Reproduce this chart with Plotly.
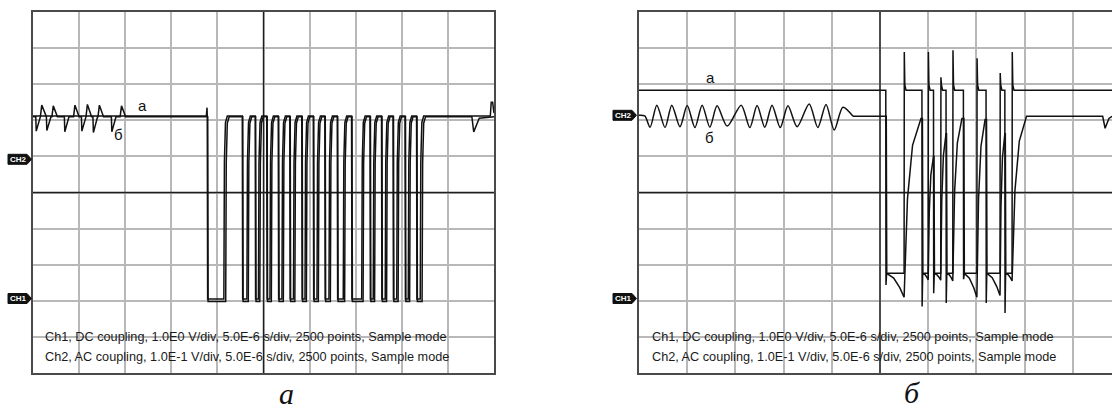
import plotly.graph_objects as go

W, H = 1112, 410

# ---------------- DATA (oscilloscope divisions) ----------------
# Left panel (a): trace "а"
LA_HIGH, LA_LOW = 7.12, 2.05
LA_FALL = [3.78, 4.54, 4.82, 5.07, 5.32, 5.57, 5.83, 6.08, 6.33, 6.60, 6.91, 7.31, 7.56, 7.81, 8.07, 8.32]
LA_RISE = [4.14, 4.64, 4.89, 5.14, 5.40, 5.65, 5.90, 6.16, 6.42, 6.73, 7.13, 7.38, 7.64, 7.89, 8.14, 8.40]
# Left panel (a): trace "б"
LB_HIGH, LB_LOW = 7.10, 1.98
LB_FALL = [3.79, 4.55, 4.83, 5.08, 5.33, 5.58, 5.84, 6.09, 6.34, 6.61, 6.92, 7.32, 7.57, 7.82, 8.08, 8.33]
LB_RISE = [4.18, 4.67, 4.92, 5.17, 5.43, 5.68, 5.93, 6.19, 6.45, 6.76, 7.16, 7.41, 7.67, 7.92, 8.17, 8.44]
LB_PEAK_X = [0.19, 0.44, 0.91, 1.18, 1.44, 1.92]
LB_PEAK_Y = [7.42, 7.40, 7.42, 7.44, 7.42, 7.40]
LB_DIP_X = [0.07, 0.30, 0.69, 1.06, 1.31, 1.71]
LB_DIP_Y = [6.70, 6.72, 6.68, 6.70, 6.66, 6.68]
LB_TAIL_DIP = (9.56, 6.68)
LA_END_STEP = (9.94, 7.50)

# Right panel (б): trace "а"
RA_HIGH, RA_LOW = 7.83, 2.76
RA_FALL = [5.12, 5.87, 6.11, 6.37, 6.73, 7.20, 7.59]
RA_RISE = [5.50, 6.00, 6.26, 6.51, 7.01, 7.49, 7.74]
RA_OVERSHOOT = [8.89, 8.89, 8.19, 8.94, 8.72, 8.31, 8.89]
RA_UNDERSHOOT = [2.44, 1.84, 2.21, 1.94, 2.60, 1.94, 1.66]
# Right panel (б): trace "б"
RB_HIGH, RB_LOW = 7.11, 2.76
RB_TROUGH_X = [0.23, 0.54, 0.85, 1.16, 1.47, 1.83, 2.30, 2.61, 2.93, 3.28, 3.71, 4.05]
RB_TROUGH_Y = [6.81, 6.80, 6.82, 6.80, 6.81, 6.84, 6.80, 6.81, 6.80, 6.82, 6.80, 6.73]
RB_PEAK_X = [0.37, 0.68, 1.00, 1.31, 1.62, 2.12, 2.45, 2.76, 3.09, 3.53, 3.88, 4.23]
RB_PEAK_Y = [7.42, 7.42, 7.41, 7.42, 7.40, 7.42, 7.41, 7.42, 7.40, 7.45, 7.44, 7.36]
RB_FALL = [5.13, 5.88, 6.12, 6.38, 6.74, 7.21, 7.60]
RB_RISE = [5.50, 6.00, 6.26, 6.51, 7.01, 7.49, 7.74]
RB_LOW_END = [2.10, 2.58, 2.57, 2.55, 2.10, 2.15, 2.55]
RB_RISE_END = [5.85, 6.11, 6.37, 6.70, 7.18, 7.59, 8.04]
RB_PEAK = [7.05, 6.00, 6.63, 7.05, 7.02, 6.63, 7.11]
RB_TAIL_DIP = (9.67, 6.78)

CAPTION1 = "Ch1, DC coupling, 1.0E0 V/div, 5.0E-6 s/div, 2500 points, Sample mode"
CAPTION2 = "Ch2, AC coupling, 1.0E-1 V/div, 5.0E-6 s/div, 2500 points, Sample mode"

# ---------------- geometry (pixels) ----------------
TOP, BOT = 12, 373
L_X0, L_X1 = 33, 494
R_X0, R_DIV = 639, 48.2
R_XMAX = (W - R_X0) / R_DIV


def px(x):
    return x / W


def py(y):
    return 1 - y / H


# ---------------- waveform builders ----------------
def square_sharp(falls, rises, high, low, end_x):
    xs, ys = [0], [high]
    for tf, tr in zip(falls, rises):
        xs += [tf, tf + 0.008]
        ys += [high, low]
        xs += [tr, tr + 0.012, tr + 0.035, tr + 0.075]
        ys += [low, low + 0.75 * (high - low), high - 0.18, high]
    xs.append(end_x)
    ys.append(high)
    return xs, ys


def osc_points(peak_x, peak_y, dip_x, dip_y, base):
    pts = []
    for x, y in zip(peak_x, peak_y):
        pts += [(x - 0.03, base), (x, y), (x + 0.09, base)]
    for x, y in zip(dip_x, dip_y):
        pts += [(x - 0.01, base), (x, y), (x + 0.09, base)]
    pts.sort()
    return pts


# Left "а"
la_x, la_y = square_sharp(LA_FALL, LA_RISE, LA_HIGH, LA_LOW, 9.92)
la_x[1:1] = [3.76, 3.775]
la_y[1:1] = [LA_HIGH, 7.35]
la_x += [LA_END_STEP[0], LA_END_STEP[0] + 0.03, 10]
la_y += [LA_END_STEP[1], LA_END_STEP[1], 7.2]

# Left "б"
pre = [(0, LB_HIGH)] + osc_points(LB_PEAK_X, LB_PEAK_Y, LB_DIP_X, LB_DIP_Y, LB_HIGH)
sq_x, sq_y = square_sharp(LB_FALL, LB_RISE, LB_HIGH, LB_LOW, 9.52)
lb_x = [p[0] for p in pre] + sq_x[1:]
lb_y = [p[1] for p in pre] + sq_y[1:]
lb_x += [LB_TAIL_DIP[0], LB_TAIL_DIP[0] + 0.12, 10]
lb_y += [LB_TAIL_DIP[1], LB_HIGH - 0.04, LB_HIGH]

# Right "а"
ra_x, ra_y = [0], [RA_HIGH]
for tf, tr, os_, us in zip(RA_FALL, RA_RISE, RA_OVERSHOOT, RA_UNDERSHOOT):
    ra_x += [tf, tf + 0.004, tf + 0.015, tf + 0.04]
    ra_y += [RA_HIGH, us, RA_LOW - 0.05, RA_LOW]
    ra_x += [tr, tr + 0.004, tr + 0.015, tr + 0.04]
    ra_y += [RA_LOW, os_, RA_HIGH + 0.15, RA_HIGH]
ra_x.append(R_XMAX)
ra_y.append(RA_HIGH)

# Right "б" — oscillating part (smooth) and pulse part
osc = sorted(list(zip(RB_TROUGH_X, RB_TROUGH_Y)) + list(zip(RB_PEAK_X, RB_PEAK_Y)))
rbo_x = [0, 0.12] + [p[0] for p in osc] + [4.44]
rbo_y = [7.14, 7.12] + [p[1] for p in osc] + [RB_HIGH]
rb_x, rb_y = [4.44], [RB_HIGH]
prev = RB_HIGH
for i, (tf, tr) in enumerate(zip(RB_FALL, RB_RISE)):
    lowE, re, pk = RB_LOW_END[i], RB_RISE_END[i], RB_PEAK[i]
    L = tr - tf - 0.01
    rb_x += [tf, tf + 0.01, tf + 0.01 + 0.4 * L, tf + 0.01 + 0.75 * L, tr]
    rb_y += [prev, RB_LOW, RB_LOW - 0.2 * (RB_LOW - lowE), RB_LOW - 0.6 * (RB_LOW - lowE), lowE]
    d = re - tr
    rb_x += [tr + 0.2 * d, tr + 0.5 * d, re]
    rb_y += [lowE + 0.55 * (pk - lowE), lowE + 0.85 * (pk - lowE), pk]
    prev = pk
rb_x += [RB_TAIL_DIP[0] - 0.05, RB_TAIL_DIP[0], RB_TAIL_DIP[0] + 0.08, R_XMAX]
rb_y += [RB_HIGH, RB_TAIL_DIP[1], RB_HIGH - 0.06, RB_HIGH]

# ---------------- figure ----------------
fig = go.Figure()
for xs, ys, xa, ya, shape in [(la_x, la_y, "x", "y", "linear"), (lb_x, lb_y, "x", "y", "linear"),
                              (ra_x, ra_y, "x2", "y2", "linear"), (rbo_x, rbo_y, "x2", "y2", "spline"),
                              (rb_x, rb_y, "x2", "y2", "linear")]:
    fig.add_trace(go.Scatter(x=xs, y=ys, mode="lines", xaxis=xa, yaxis=ya,
                             line=dict(color="#111111", width=1.5, shape=shape, smoothing=0.8),
                             showlegend=False, hoverinfo="skip"))

grid = dict(showgrid=True, gridcolor="#b8b8b8", gridwidth=1.5, zeroline=False,
            showticklabels=False, ticks="", dtick=1, tick0=0, fixedrange=True)
ydom = [py(BOT), py(TOP)]
fig.update_layout(
    width=W, height=H, margin=dict(l=0, r=0, t=0, b=0),
    paper_bgcolor="white", plot_bgcolor="white",
    xaxis=dict(domain=[px(L_X0), px(L_X1)], range=[0, 10], anchor="y",
               showline=True, mirror=True, linecolor="#4a4a4a", linewidth=2, **grid),
    yaxis=dict(domain=ydom, range=[0, 10], anchor="x",
               showline=True, mirror=True, linecolor="#4a4a4a", linewidth=2, **grid),
    xaxis2=dict(domain=[px(R_X0), 1], range=[0, R_XMAX], anchor="y2",
                showline=True, mirror=True, linecolor="#4a4a4a", linewidth=2, **grid),
    yaxis2=dict(domain=ydom, range=[0, 10], anchor="x2",
                showline=True, mirror=False, linecolor="#4a4a4a", linewidth=2, **grid),
)

shapes = []
for xr, yr, xmax in [("x", "y", 10), ("x2", "y2", R_XMAX)]:
    shapes.append(dict(type="line", xref=xr, yref=yr, x0=5, x1=5, y0=0, y1=10,
                       line=dict(color="#1e1e1e", width=1.4), layer="between"))
    shapes.append(dict(type="line", xref=xr, yref=yr, x0=0, x1=xmax, y0=5, y1=5,
                       line=dict(color="#1e1e1e", width=1.4), layer="between"))

annotations = []


def ch_marker(x0, yc, label):
    path = (f"M {px(x0)},{py(yc - 5)} L {px(x0 + 19)},{py(yc - 5)} "
            f"L {px(x0 + 23.5)},{py(yc)} L {px(x0 + 19)},{py(yc + 5)} "
            f"L {px(x0)},{py(yc + 5)} Z")
    shapes.append(dict(type="path", xref="paper", yref="paper", path=path,
                       fillcolor="#111111", line=dict(color="#111111", width=1)))
    annotations.append(dict(xref="paper", yref="paper", x=px(x0 + 10), y=py(yc),
                            text=f"<b>{label}</b>", showarrow=False, xanchor="center",
                            yanchor="middle",
                            font=dict(family="Liberation Sans, Arial", size=8, color="white")))


ch_marker(8, 159.3, "CH2")
ch_marker(8, 298.5, "CH1")
ch_marker(613, 115.3, "CH2")
ch_marker(613, 298.5, "CH1")

cap_font = dict(family="Liberation Sans, Arial", size=12.7, color="#1a1a1a")
for xr, yr, x0 in [("x", "y", 0.22), ("x2", "y2", 0.23)]:
    annotations.append(dict(xref=xr, yref=yr, x=x0, y=0.99, text=CAPTION1, showarrow=False,
                            xanchor="left", yanchor="middle", font=cap_font))
    annotations.append(dict(xref=xr, yref=yr, x=x0, y=0.45, text=CAPTION2, showarrow=False,
                            xanchor="left", yanchor="middle", font=cap_font))

lab_font = dict(family="Liberation Sans, Arial", size=15, color="#111111")
for xr, yr, x, y, t in [("x", "y", 2.38, 7.40, "а"), ("x", "y", 1.85, 6.62, "б"),
                        ("x2", "y2", 1.49, 8.18, "а"), ("x2", "y2", 1.47, 6.52, "б")]:
    annotations.append(dict(xref=xr, yref=yr, x=x, y=y, text=t, showarrow=False,
                            xanchor="center", yanchor="middle", font=lab_font))

sub_font = dict(family="Liberation Serif, Times New Roman", size=30, color="#111111")
for xpix, ypix, t in [(286.7, 393, "<i>а</i>"), (911.7, 392, "<i>б</i>")]:
    annotations.append(dict(xref="paper", yref="paper", x=px(xpix), y=py(ypix), text=t,
                            showarrow=False, xanchor="center", yanchor="middle", font=sub_font))

fig.update_layout(shapes=shapes, annotations=annotations)
fig.write_html("out.html", config={"responsive": False, "displayModeBar": False},
               post_script="document.body.style.margin='0';document.body.style.overflow='hidden';")
